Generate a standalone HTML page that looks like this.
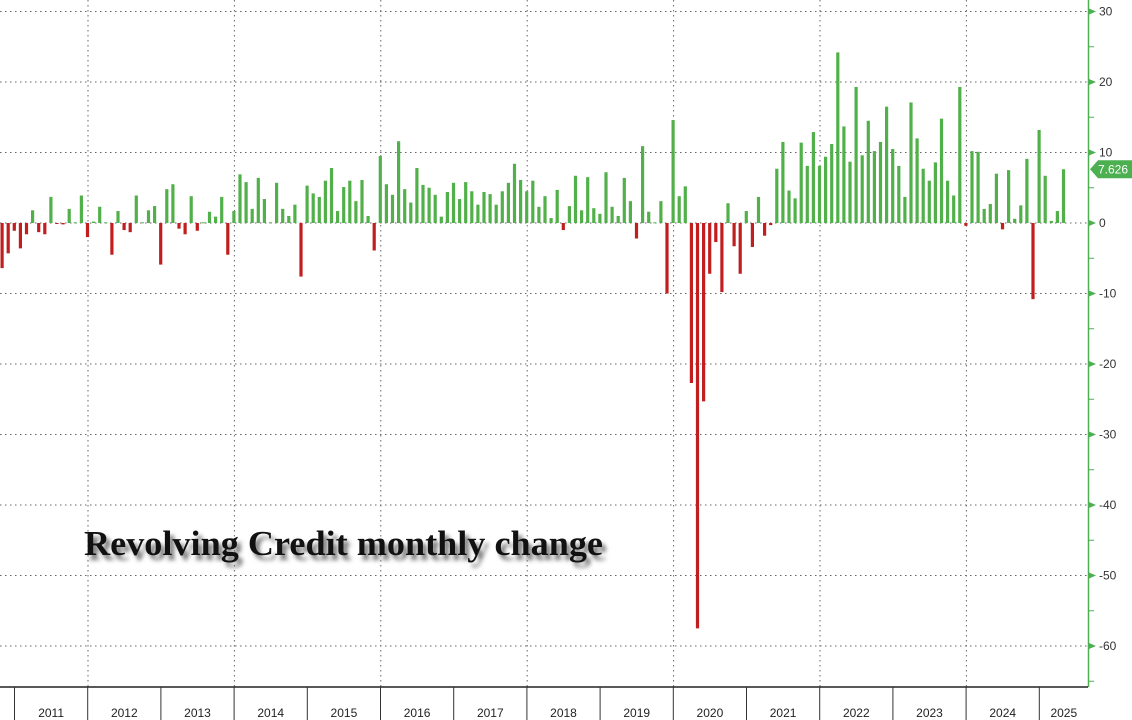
<!DOCTYPE html>
<html><head><meta charset="utf-8"><style>
html,body{margin:0;padding:0;background:#fff;}
svg{display:block;}
</style></head><body>
<svg id="c" width="1132" height="720" xmlns="http://www.w3.org/2000/svg" font-family="Liberation Sans, sans-serif">
<defs><filter id="bl" x="-5%" y="-30%" width="110%" height="160%"><feGaussianBlur stdDeviation="2"/></filter></defs>
<rect width="1132" height="720" fill="#fff"/>
<g id="grid" stroke="#666" stroke-width="1" stroke-dasharray="1.5,3.5"></g>
<g id="bars"></g>
<g id="axis"></g>
<text x="84" y="555" font-family="Liberation Serif, serif" font-weight="bold" font-size="35" fill="#777" filter="url(#bl)" transform="translate(4,5)" textLength="519" lengthAdjust="spacingAndGlyphs">Revolving Credit monthly change</text>
<text x="84" y="555" font-family="Liberation Serif, serif" font-weight="bold" font-size="35" fill="#111" textLength="519" lengthAdjust="spacingAndGlyphs">Revolving Credit monthly change</text>
</svg>
<script>
var v=[-6.4,-4.3,-1.1,-3.6,-1.6,1.8,-1.3,-1.6,3.7,-0.1,-0.2,2,0.1,3.9,-2,0.2,2.3,0.1,-4.5,1.7,-1,-1.3,3.9,0.1,1.8,2.4,-5.9,4.8,5.5,-0.8,-1.6,
3.8,-1.1,0.1,1.6,0.9,3.7,-4.5,1.7,6.9,5.8,2,6.4,3.4,0.1,5.7,2,1,2.6,-7.6,5.3,4.2,3.7,6,7.8,1.7,5.1,6,3.1,6.1,1,-3.9,
9.5,5.5,4,11.6,4.8,2.9,7.8,5.4,5,4,0.9,4.4,5.7,3.4,5.8,4.5,2.6,4.4,4.1,2.6,4.5,5.7,8.4,6.1,4.5,6,2.3,3.8,0.7,4.7,
-1,2.4,6.7,1.8,6.5,2.1,1.3,7.2,2.3,1,6.4,3.1,-2.2,10.9,1.6,0.1,3.1,-10,14.6,3.8,5.2,-22.7,-57.5,-25.3,-7.2,-2.7,-9.8,2.8,-3.3,-7.2,
1.7,-3.4,3.7,-1.8,-0.3,7.7,11.5,4.6,3.5,11.4,8.1,12.9,8.1,9.4,11.2,24.2,13.7,8.7,19.3,9.6,14.5,10.2,11.5,16.5,10.5,8.1,3.7,17.1,12,7.7,6,8.6,14.8,6,3.9,19.3,-0.4,10.2,10.1,2,2.7,7,-0.9,7.5,0.6,2.5,9.1,-10.8,13.2,6.7,0.3,1.7,7.626];
var NS="http://www.w3.org/2000/svg",Z=223,U=7.05;
function el(p,t,a,txt){var e=document.createElementNS(NS,t);for(var k in a)e.setAttribute(k,a[k]);if(txt!=null)e.textContent=txt;p.appendChild(e);return e;}
var g=document.getElementById('grid'),b=document.getElementById('bars'),ax=document.getElementById('axis');
for(var t=30;t>=-60;t-=10){var y=Z-t*U;el(g,'line',{x1:0,x2:1088,y1:y,y2:y});}
for(var k=0;k<7;k++){var x=88+146.4*k;el(g,'line',{x1:x,x2:x,y1:0,y2:687});}
for(var i=0;i<v.length;i++){var x=2+6.1*i,h=v[i]*U;var y=h>=0?Z-h:Z;el(b,'rect',{x:x-1.5,y:y,width:3.2,height:Math.max(Math.abs(h),1),fill:v[i]>=0?'#52b04a':'#c11f1f'});}
el(ax,'line',{x1:1088.5,x2:1088.5,y1:0,y2:687,stroke:'#4caf50','stroke-width':1.5});
for(var t=30;t>=-60;t-=10){var y=Z-t*U;el(ax,'path',{d:'M1089 '+(y-3)+' L1096 '+y+' L1089 '+(y+3)+'Z',fill:'#4caf50'});el(ax,'text',{x:1099,y:y+4,'font-size':12,fill:'#333'},String(t));
var ym=y+35.25;el(ax,'line',{x1:1088,x2:1094,y1:ym,y2:ym,stroke:'#4caf50'});}
var yb=Z-7.626*U;
el(ax,'path',{d:'M1090 '+yb+' L1098 '+(yb-9)+' L1132 '+(yb-9)+' L1132 '+(yb+9)+' L1098 '+(yb+9)+'Z',fill:'#4caf50'});
el(ax,'text',{x:1098,y:yb+4.5,'font-size':12,fill:'#fff'},'7.626');
el(ax,'line',{x1:0,x2:1088,y1:687,y2:687,stroke:'#222','stroke-width':1.5});
var yrs=['2011','2012','2013','2014','2015','2016','2017','2018','2019','2020','2021','2022','2023','2024','2025'];
for(var k=0;k<15;k++){var x=14.5+73.2*k;el(ax,'line',{x1:x,x2:x,y1:687,y2:720,stroke:'#333'});
var cx=k<14?x+36.6:x+24.5;el(ax,'text',{x:cx,y:717,'font-size':12,fill:'#222','text-anchor':'middle'},yrs[k]);}
</script>
</body></html>
